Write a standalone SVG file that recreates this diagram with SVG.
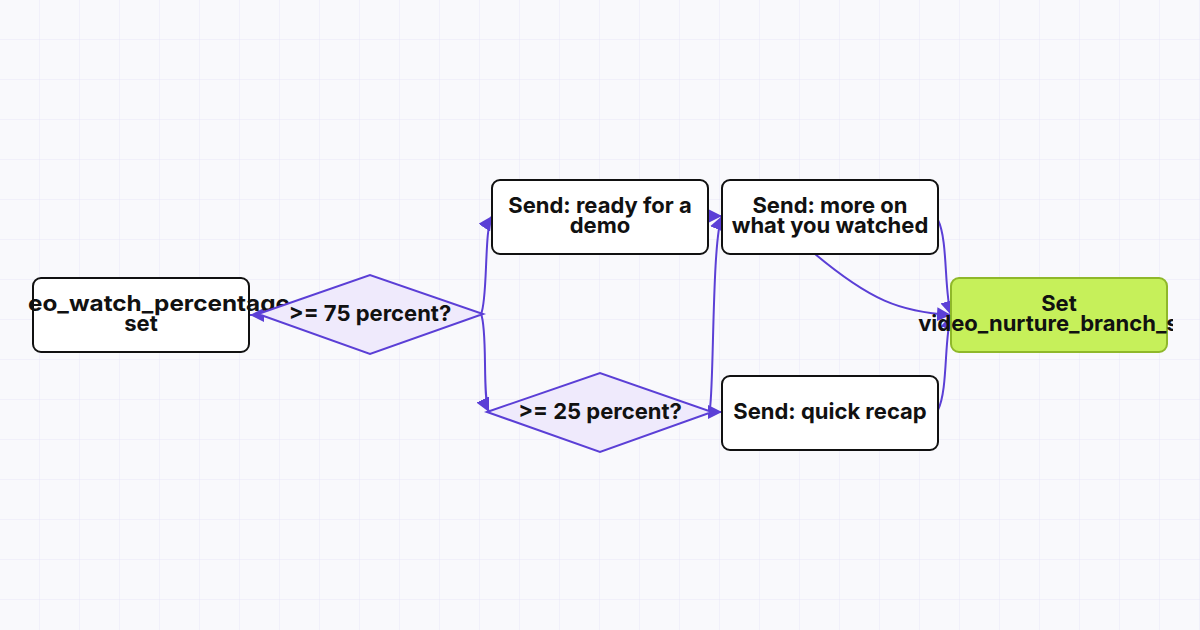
<svg xmlns="http://www.w3.org/2000/svg" width="1200" height="630" viewBox="0 0 1200 630">
<defs>
<pattern id="grid" width="40" height="40" patternUnits="userSpaceOnUse"><path d="M40 0V40M0 40H40" fill="none" stroke="#e9e6f8" stroke-width="1"/></pattern>
<marker id="ah" viewBox="0 0 10 10" refX="10" refY="5" markerWidth="7" markerHeight="7" orient="auto"><path d="M0 0L10 5L0 10z" fill="#5b3fd6"/></marker>
<clipPath id="clipR"><rect x="0" y="0" width="1173" height="630"/></clipPath>
<style>
.box{fill:#fff;stroke:#111;stroke-width:2}
.dia{fill:#efeafc;stroke:#5b3fd6;stroke-width:2}
.t{font-family:Inter,"Liberation Sans",sans-serif;font-weight:700;font-size:22px;fill:#111;text-anchor:middle}
.c{fill:none;stroke:#5b3fd6;stroke-width:2;marker-end:url(#ah)}
</style>
</defs>
<rect width="1200" height="630" fill="#f9f9fc"/>
<rect width="1200" height="630" fill="url(#grid)"/>
<g id="connectors">
<path class="c" d="M264 315L250 315"/>
<path class="c" d="M481 314C488 300 484 228 492 216"/>
<path class="c" d="M481 314C488 330 482 398 489 412"/>
<path class="c" d="M708 216L722 216"/>
<path class="c" d="M712 412L722 412"/>
<path class="c" d="M710 408C714 380 712 240 722 216"/>
<path class="c" d="M938 220C948 240 944 290 951 315"/>
<path class="c" d="M815 254C870 300 900 312 951 315"/>
<path class="c" d="M938 410C948 390 944 340 951 315"/>
</g>
<g id="n1"><rect class="box" x="33" y="278" width="216" height="74" rx="8"/><text class="t" x="159" y="311" textLength="262" lengthAdjust="spacingAndGlyphs">eo_watch_percentage</text><text class="t" x="141" y="331">set</text></g>
<g id="d1"><polygon class="dia" points="258,314 370,275 483,314 370,354"/><text class="t" x="370" y="321">&gt;= 75 percent?</text></g>
<g id="d2"><polygon class="dia" points="487,412 600,373 712,412 600,452"/><text class="t" x="600" y="419">&gt;= 25 percent?</text></g>
<g id="n2"><rect class="box" x="492" y="180" width="216" height="74" rx="8"/><text class="t" x="600" y="213">Send: ready for a</text><text class="t" x="600" y="233">demo</text></g>
<g id="n3"><rect class="box" x="722" y="180" width="216" height="74" rx="8"/><text class="t" x="830" y="213">Send: more on</text><text class="t" x="830" y="233">what you watched</text></g>
<g id="n4"><rect class="box" x="722" y="376" width="216" height="74" rx="8"/><text class="t" x="830" y="419">Send: quick recap</text></g>
<g id="n5" clip-path="url(#clipR)"><rect x="951" y="278" width="216" height="74" rx="8" fill="#c6f05a" stroke="#8fb82a" stroke-width="2"/><text class="t" x="1059" y="311">Set</text><text class="t" x="1059" y="331">video_nurture_branch_set</text></g>
</svg>
